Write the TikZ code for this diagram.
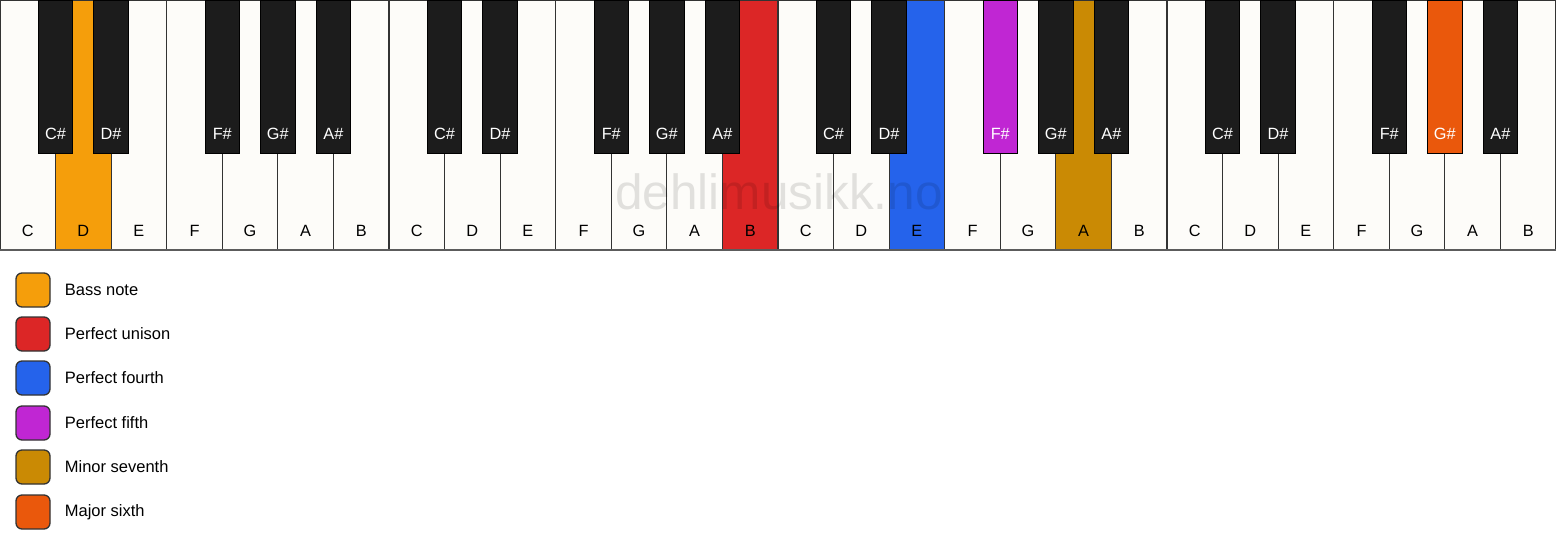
\documentclass[tikz,border=0pt]{standalone}
\usepackage{fontspec}
\setmainfont{Liberation Sans}
\usetikzlibrary{positioning}

\definecolor{keywhite}{HTML}{FDFCF9}
\definecolor{keyblack}{HTML}{1C1C1C}
\definecolor{keyline}{HTML}{333333}
\definecolor{bassnote}{HTML}{F59E0B}
\definecolor{unison}{HTML}{DC2626}
\definecolor{fourth}{HTML}{2563EB}
\definecolor{fifth}{HTML}{C026D3}
\definecolor{seventh}{HTML}{CA8A04}
\definecolor{sixth}{HTML}{EA580C}

\def\wk{55.571}

\begin{document}
\begin{tikzpicture}[x=1pt,y=-1pt,
    whitekey/.style={fill=keywhite,draw=keyline,line width=1.2pt},
    blackkey/.style={fill=keyblack,draw=black,line width=1pt},
    wlab/.style={anchor=base,inner sep=0pt,font=\fontsize{16.3}{19}\selectfont},
    blab/.style={wlab,text=white},
    swatch/.style={draw=keyline,line width=1.3pt,rounded corners=6pt,
      minimum size=34pt,inner sep=0pt},
    legtext/.style={inner sep=0pt,anchor=west,font=\fontsize{16.5}{19}\selectfont}
  ]
\useasboundingbox (0,0) rectangle (1556,550);
\fill[white] (0,0) rectangle (1556,550);

% white keys
\draw[whitekey] (0*\wk,0) rectangle +(\wk,250) node[wlab] (c1) at (0.5*\wk,236) {C};
\draw[whitekey,fill=bassnote] (1*\wk,0) rectangle +(\wk,250) node[wlab] (d1) at (1.5*\wk,236) {D};
\draw[whitekey] (2*\wk,0) rectangle +(\wk,250) node[wlab] (e1) at (2.5*\wk,236) {E};
\draw[whitekey] (3*\wk,0) rectangle +(\wk,250) node[wlab] (f1) at (3.5*\wk,236) {F};
\draw[whitekey] (4*\wk,0) rectangle +(\wk,250) node[wlab] (g1) at (4.5*\wk,236) {G};
\draw[whitekey] (5*\wk,0) rectangle +(\wk,250) node[wlab] (a1) at (5.5*\wk,236) {A};
\draw[whitekey] (6*\wk,0) rectangle +(\wk,250) node[wlab] (b1) at (6.5*\wk,236) {B};
\draw[whitekey] (7*\wk,0) rectangle +(\wk,250) node[wlab] (c2) at (7.5*\wk,236) {C};
\draw[whitekey] (8*\wk,0) rectangle +(\wk,250) node[wlab] (d2) at (8.5*\wk,236) {D};
\draw[whitekey] (9*\wk,0) rectangle +(\wk,250) node[wlab] (e2) at (9.5*\wk,236) {E};
\draw[whitekey] (10*\wk,0) rectangle +(\wk,250) node[wlab] (f2) at (10.5*\wk,236) {F};
\draw[whitekey] (11*\wk,0) rectangle +(\wk,250) node[wlab] (g2) at (11.5*\wk,236) {G};
\draw[whitekey] (12*\wk,0) rectangle +(\wk,250) node[wlab] (a2) at (12.5*\wk,236) {A};
\draw[whitekey,fill=unison] (13*\wk,0) rectangle +(\wk,250) node[wlab] (b2) at (13.5*\wk,236) {B};
\draw[whitekey] (14*\wk,0) rectangle +(\wk,250) node[wlab] (c3) at (14.5*\wk,236) {C};
\draw[whitekey] (15*\wk,0) rectangle +(\wk,250) node[wlab] (d3) at (15.5*\wk,236) {D};
\draw[whitekey,fill=fourth] (16*\wk,0) rectangle +(\wk,250) node[wlab] (e3) at (16.5*\wk,236) {E};
\draw[whitekey] (17*\wk,0) rectangle +(\wk,250) node[wlab] (f3) at (17.5*\wk,236) {F};
\draw[whitekey] (18*\wk,0) rectangle +(\wk,250) node[wlab] (g3) at (18.5*\wk,236) {G};
\draw[whitekey,fill=seventh] (19*\wk,0) rectangle +(\wk,250) node[wlab] (a3) at (19.5*\wk,236) {A};
\draw[whitekey] (20*\wk,0) rectangle +(\wk,250) node[wlab] (b3) at (20.5*\wk,236) {B};
\draw[whitekey] (21*\wk,0) rectangle +(\wk,250) node[wlab] (c4) at (21.5*\wk,236) {C};
\draw[whitekey] (22*\wk,0) rectangle +(\wk,250) node[wlab] (d4) at (22.5*\wk,236) {D};
\draw[whitekey] (23*\wk,0) rectangle +(\wk,250) node[wlab] (e4) at (23.5*\wk,236) {E};
\draw[whitekey] (24*\wk,0) rectangle +(\wk,250) node[wlab] (f4) at (24.5*\wk,236) {F};
\draw[whitekey] (25*\wk,0) rectangle +(\wk,250) node[wlab] (g4) at (25.5*\wk,236) {G};
\draw[whitekey] (26*\wk,0) rectangle +(\wk,250) node[wlab] (a4) at (26.5*\wk,236) {A};
\draw[whitekey] (27*\wk,0) rectangle +(\wk,250) node[wlab] (b4) at (27.5*\wk,236) {B};
\draw[keyline!80!white,line width=2.2pt] (0,250) -- (1556,250);

% black keys
\draw[blackkey] (1*\wk-17.25,0) rectangle +(34.5,153) node[blab] (cs1) at (1*\wk,139) {C\#};
\draw[blackkey] (2*\wk-17.25,0) rectangle +(34.5,153) node[blab] (ds1) at (2*\wk,139) {D\#};
\draw[blackkey] (4*\wk-17.25,0) rectangle +(34.5,153) node[blab] (fs1) at (4*\wk,139) {F\#};
\draw[blackkey] (5*\wk-17.25,0) rectangle +(34.5,153) node[blab] (gs1) at (5*\wk,139) {G\#};
\draw[blackkey] (6*\wk-17.25,0) rectangle +(34.5,153) node[blab] (as1) at (6*\wk,139) {A\#};
\draw[blackkey] (8*\wk-17.25,0) rectangle +(34.5,153) node[blab] (cs2) at (8*\wk,139) {C\#};
\draw[blackkey] (9*\wk-17.25,0) rectangle +(34.5,153) node[blab] (ds2) at (9*\wk,139) {D\#};
\draw[blackkey] (11*\wk-17.25,0) rectangle +(34.5,153) node[blab] (fs2) at (11*\wk,139) {F\#};
\draw[blackkey] (12*\wk-17.25,0) rectangle +(34.5,153) node[blab] (gs2) at (12*\wk,139) {G\#};
\draw[blackkey] (13*\wk-17.25,0) rectangle +(34.5,153) node[blab] (as2) at (13*\wk,139) {A\#};
\draw[blackkey] (15*\wk-17.25,0) rectangle +(34.5,153) node[blab] (cs3) at (15*\wk,139) {C\#};
\draw[blackkey] (16*\wk-17.25,0) rectangle +(34.5,153) node[blab] (ds3) at (16*\wk,139) {D\#};
\draw[blackkey,fill=fifth] (18*\wk-17.25,0) rectangle +(34.5,153) node[blab] (fs3) at (18*\wk,139) {F\#};
\draw[blackkey] (19*\wk-17.25,0) rectangle +(34.5,153) node[blab] (gs3) at (19*\wk,139) {G\#};
\draw[blackkey] (20*\wk-17.25,0) rectangle +(34.5,153) node[blab] (as3) at (20*\wk,139) {A\#};
\draw[blackkey] (22*\wk-17.25,0) rectangle +(34.5,153) node[blab] (cs4) at (22*\wk,139) {C\#};
\draw[blackkey] (23*\wk-17.25,0) rectangle +(34.5,153) node[blab] (ds4) at (23*\wk,139) {D\#};
\draw[blackkey] (25*\wk-17.25,0) rectangle +(34.5,153) node[blab] (fs4) at (25*\wk,139) {F\#};
\draw[blackkey,fill=sixth] (26*\wk-17.25,0) rectangle +(34.5,153) node[blab] (gs4) at (26*\wk,139) {G\#};
\draw[blackkey] (27*\wk-17.25,0) rectangle +(34.5,153) node[blab] (as4) at (27*\wk,139) {A\#};

\node[anchor=base,inner sep=0pt,text=black,text opacity=0.11,
  font=\fontsize{49.5}{56}\selectfont] (wm) at (779,209) {dehlimusikk.no};

% legend
\node[swatch,fill=bassnote] (bass) at (33,290) {};
\node[swatch,fill=unison] (uni) at (33,334) {};
\node[swatch,fill=fourth] (four) at (33,378) {};
\node[swatch,fill=fifth] (five) at (33,423) {};
\node[swatch,fill=seventh] (seven) at (33,467) {};
\node[swatch,fill=sixth] (six) at (33,512) {};
\node[legtext,right=14pt of bass] (basst) {Bass note};
\node[legtext,right=14pt of uni] (unit) {Perfect unison};
\node[legtext,right=14pt of four] (fourt) {Perfect fourth};
\node[legtext,right=14pt of five] (fivet) {Perfect fifth};
\node[legtext,right=14pt of seven] (sevent) {Minor seventh};
\node[legtext,right=14pt of six] (sixt) {Major sixth};
\end{tikzpicture}
\end{document}
